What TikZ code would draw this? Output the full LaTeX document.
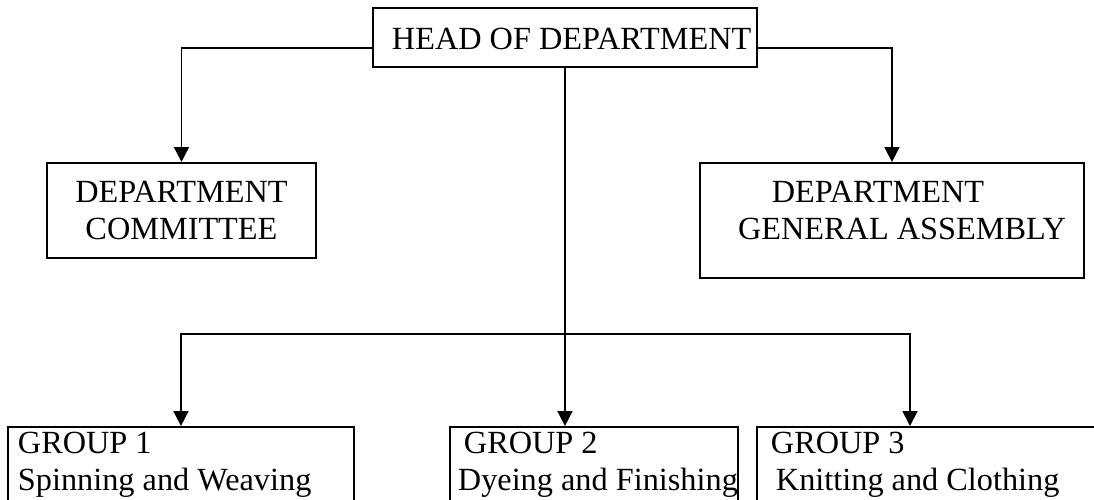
\documentclass[tikz,border=0pt]{standalone}
\usepackage{fontspec}
\setmainfont{Liberation Serif}
\usetikzlibrary{arrows.meta}
% box body: width, height, gap above the first line, text
\newcommand{\cell}[4]{\parbox[c][#2pt][t]{#1pt}{\vspace*{#3pt}#4}}

\begin{document}
\begin{tikzpicture}[
  x=1pt,
  y=-1pt,
  every node/.style={font=\fontsize{32.3}{37}\selectfont, inner sep=0pt},
  unit/.style={draw, line width=1.9pt, anchor=north west},
  link/.style={line width=1.8pt, -{Triangle[length=15pt, width=15pt]}}
]
  % ---- page, cut at the lower and right edge ---------------------------
  \useasboundingbox (0,0) rectangle (1094,500);
  \clip (0,0) rectangle (1094,500);

  % ---- top of the chart -------------------------------------------------
  \node[unit] (head) at (372,7)
    {\cell{384}{59}{20}{\hspace*{19pt}HEAD OF DEPARTMENT}};

  % ---- the two bodies beside the head ----------------------------------
  \node[unit] (committee) at (46,162)
    {\cell{269}{95}{18}{\centering DEPARTMENT\\COMMITTEE}};
  \node[unit] (assembly) at (699,162)
    {\cell{384}{115}{18}{\centering \hspace*{-28pt}DEPARTMENT\\
      \hspace*{20pt}GENERAL ASSEMBLY}};

  % ---- the three groups -------------------------------------------------
  \node[unit] (group1) at (7,426)
    {\cell{346}{110}{5}{\raggedright \hspace*{10pt}GROUP 1\\
      \hspace*{10pt}Spinning and Weaving}};
  \node[unit] (group2) at (449,426)
    {\cell{288}{110}{5}{\raggedright \hspace*{14pt}GROUP 2\\
      \hspace*{8pt}Dyeing and Finishing}};
  \node[unit] (group3) at (756,426)
    {\cell{400}{110}{5}{\raggedright \hspace*{14pt}GROUP 3\\
      \hspace*{19pt}Knitting and Clothing}};

  % ---- connectors ------------------------------------------------------
  \coordinate (split) at (564,334);
  \coordinate (group3in) at (910,426);
  \draw[link] ([yshift=-10.5pt]head.west) -| (committee.north);
  \draw[link] ([yshift=-10.5pt]head.east) -| (assembly.north);
  \draw[link] (head.south) -- (head.south |- group2.north);
  \draw[link] (split) -| (group1.north);
  \draw[link] (split) -| (group3in);

\end{tikzpicture}
\end{document}
